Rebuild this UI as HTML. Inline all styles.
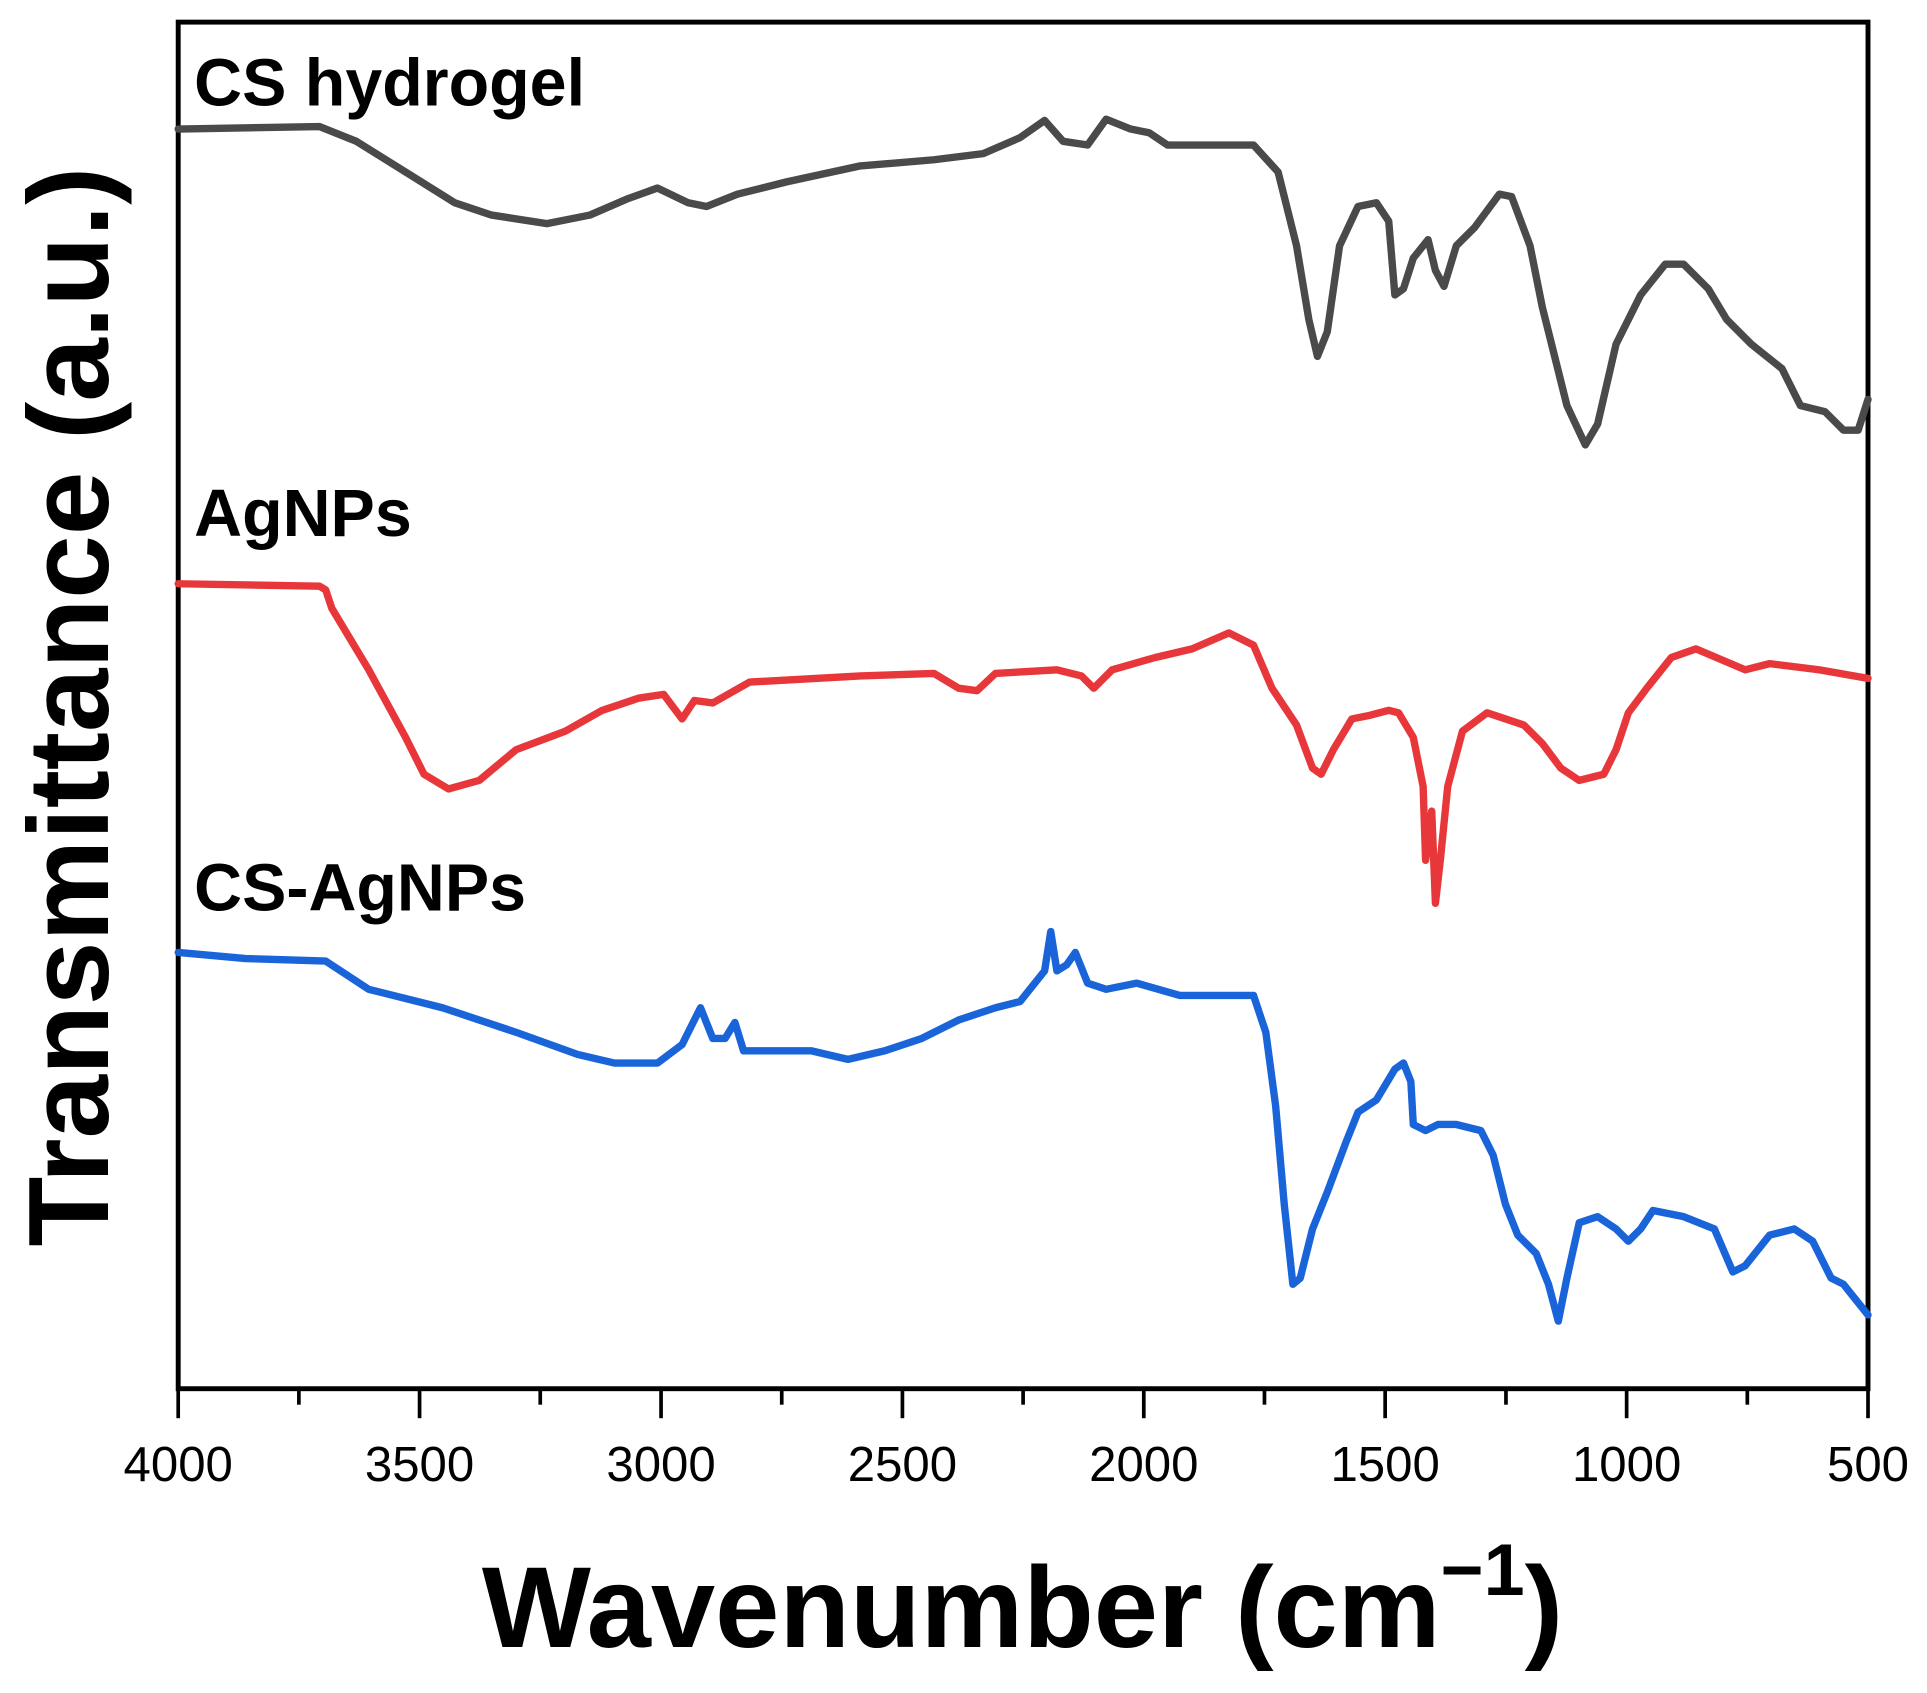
<!DOCTYPE html>
<html><head><meta charset="utf-8"><style>html,body{margin:0;padding:0;background:#fff}svg{display:block}</style></head>
<body>
<svg width="1927" height="1693" viewBox="0 0 1568 1377.6" xmlns="http://www.w3.org/2000/svg" font-family="Liberation Sans, sans-serif">
<rect width="1568" height="1377.6" fill="#fff"/>
<rect x="145" y="18" width="1375" height="1112" fill="none" stroke="#000" stroke-width="4"/>
<g stroke="#000" stroke-width="3">
<line x1="145" y1="1130" x2="145" y2="1154"/><line x1="243.2" y1="1130" x2="243.2" y2="1143"/>
<line x1="341.4" y1="1130" x2="341.4" y2="1154"/><line x1="439.6" y1="1130" x2="439.6" y2="1143"/>
<line x1="537.9" y1="1130" x2="537.9" y2="1154"/><line x1="636.1" y1="1130" x2="636.1" y2="1143"/>
<line x1="734.3" y1="1130" x2="734.3" y2="1154"/><line x1="832.5" y1="1130" x2="832.5" y2="1143"/>
<line x1="930.7" y1="1130" x2="930.7" y2="1154"/><line x1="1028.9" y1="1130" x2="1028.9" y2="1143"/>
<line x1="1127.1" y1="1130" x2="1127.1" y2="1154"/><line x1="1225.4" y1="1130" x2="1225.4" y2="1143"/>
<line x1="1323.6" y1="1130" x2="1323.6" y2="1154"/><line x1="1421.8" y1="1130" x2="1421.8" y2="1143"/>
<line x1="1520" y1="1130" x2="1520" y2="1154"/>
</g>
<g font-size="40" text-anchor="middle" fill="#000">
<text x="145" y="1205">4000</text><text x="341.4" y="1205">3500</text><text x="537.9" y="1205">3000</text>
<text x="734.3" y="1205">2500</text><text x="930.7" y="1205">2000</text><text x="1127.1" y="1205">1500</text>
<text x="1323.6" y="1205">1000</text><text x="1520" y="1205">500</text>
</g>
<text x="832" y="1340" font-size="94" font-weight="bold" text-anchor="middle">Wavenumber (cm<tspan font-size="60" dy="-42">−1</tspan><tspan dy="42">)</tspan></text>
<text transform="translate(88,575) rotate(-90)" font-size="93" font-weight="bold" text-anchor="middle">Transmittance (a.u.)</text>
<g font-size="54" font-weight="bold">
<text x="158" y="86">CS hydrogel</text>
<text x="158" y="436">AgNPs</text>
<text x="158" y="741">CS-AgNPs</text>
</g>
<g fill="none" stroke-width="6" stroke-linejoin="round" stroke-linecap="round">
<polyline stroke="#4a4a4a" points="145,105 260,103 290,115 330,140 370,165 400,175 445,182 480,175 510,162 535,153 560,165 575,168 600,158 640,148 700,135 760,130 800,125 830,112 850,98 865,115 885,118 900,97 920,105 935,108 950,118 1020,118 1040,140 1055,200 1065,260 1072,290 1080,270 1090,200 1105,168 1120,165 1130,180 1135,240 1142,235 1150,210 1162,195 1168,220 1175,233 1185,200 1200,185 1220,158 1230,160 1245,200 1255,250 1265,290 1275,330 1290,362 1300,345 1315,280 1335,240 1355,215 1370,215 1390,235 1405,260 1425,280 1450,300 1465,330 1485,335 1500,350 1512,350 1520,325"/>
<polyline stroke="#e8373a" points="145,475 260,477 265,480 270,495 300,545 330,600 345,630 365,642 390,635 420,610 460,595 490,578 520,568 540,565 555,585 565,570 580,572 610,555 700,550 760,548 780,560 795,562 810,548 860,545 880,550 890,560 905,545 940,535 970,528 1000,515 1020,525 1035,560 1055,590 1068,625 1075,630 1085,610 1100,585 1115,582 1130,578 1138,580 1150,600 1158,640 1160,700 1165,660 1168,735 1172,700 1178,640 1190,595 1210,580 1240,590 1255,605 1270,625 1285,635 1305,630 1315,610 1325,580 1340,560 1360,535 1380,528 1420,545 1440,540 1480,545 1520,552"/>
<polyline stroke="#1a64d9" points="145,775 200,780 265,782 300,805 360,820 420,840 470,858 500,865 535,865 555,850 565,830 570,820 580,845 590,845 598,832 605,855 620,855 660,855 690,862 720,855 750,845 780,830 810,820 830,815 850,790 855,758 860,790 868,785 875,775 885,800 900,805 925,800 960,810 1020,810 1030,840 1038,900 1045,980 1052,1045 1058,1040 1068,1000 1080,970 1095,930 1105,905 1120,895 1135,870 1142,865 1148,880 1150,915 1160,920 1170,915 1185,915 1205,920 1215,940 1225,980 1235,1005 1250,1020 1260,1045 1268,1075 1275,1040 1285,995 1300,990 1315,1000 1325,1010 1335,1000 1345,985 1370,990 1395,1000 1410,1035 1420,1030 1440,1005 1460,1000 1475,1010 1490,1040 1500,1045 1508,1055 1520,1070"/>
</g>
</svg>
</body></html>
